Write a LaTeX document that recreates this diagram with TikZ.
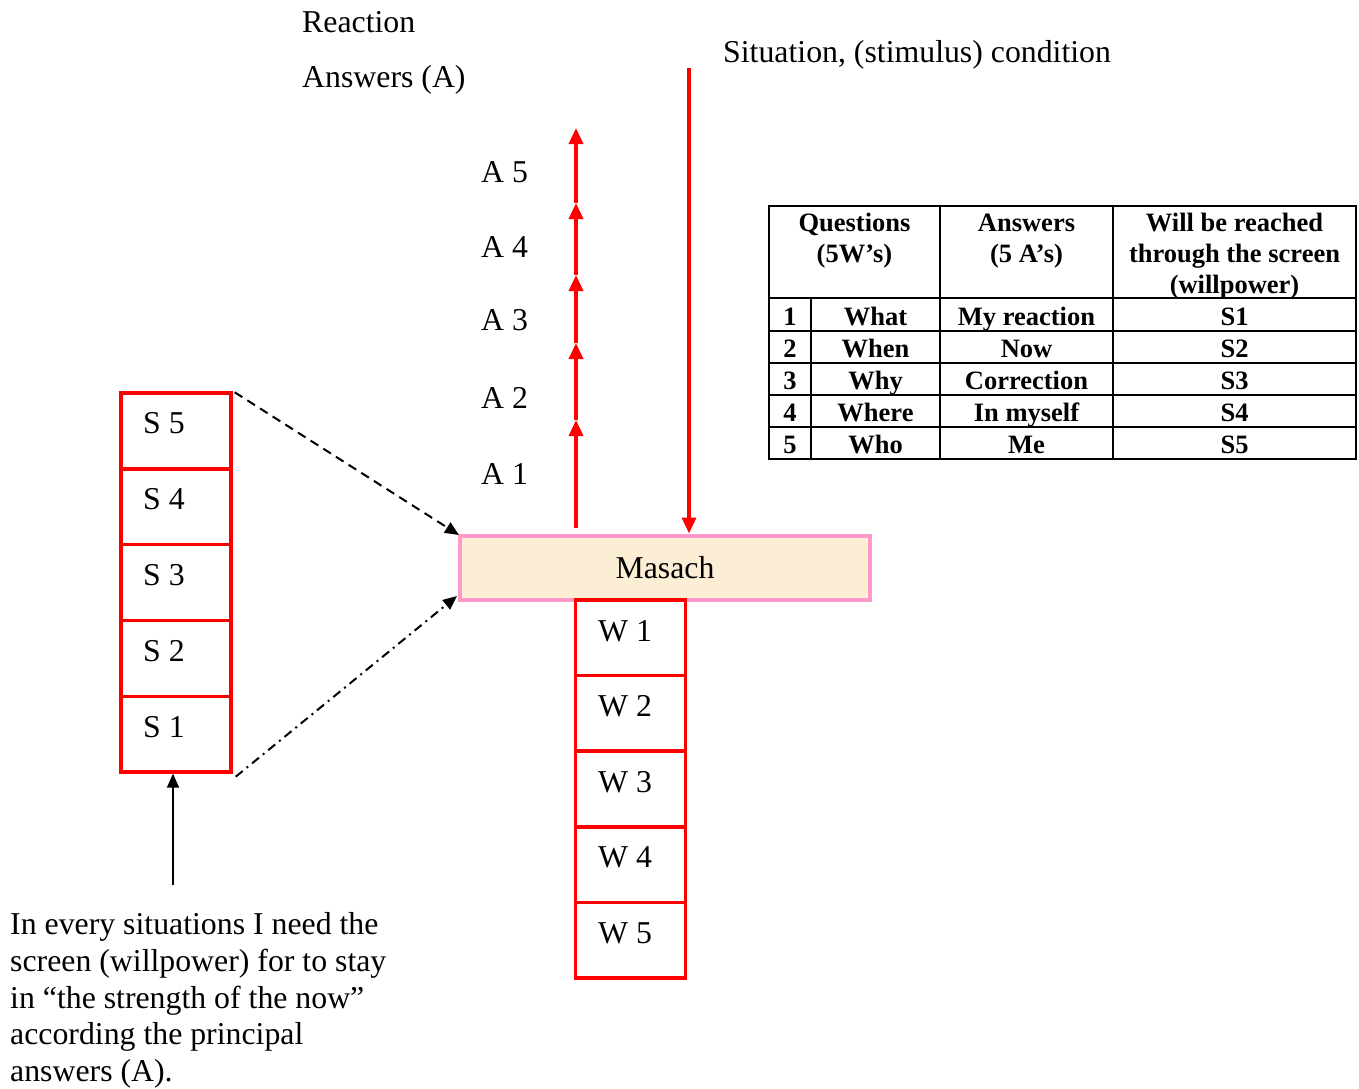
\documentclass[tikz,border=0pt]{standalone}
\usepackage{fontspec}
\setmainfont{Liberation Serif}
\usetikzlibrary{arrows.meta}
\definecolor{pinkb}{HTML}{FF99CC}
\definecolor{beige}{HTML}{FCEDD5}
\tikzset{
  txt/.style={anchor=base west,inner sep=0pt,font=\fontsize{31.8}{37}\selectfont},
  ctxt/.style={anchor=base,inner sep=0pt,font=\fontsize{31.8}{37}\selectfont},
  tb/.style={anchor=base,inner sep=0pt,font=\fontsize{26.5}{31}\selectfont\bfseries},
  redbox/.style={draw=red,line width=3.4pt,minimum width=110pt,minimum height=75.8pt,inner sep=0pt},
  redarrow/.style={draw=red,line width=3.4pt,-{Triangle[length=16pt,width=14pt]}},
  blackarrow/.style={draw=black,line width=2pt,-{Triangle[length=14pt,width=12pt]}},
  tline/.style={line width=1.6pt}
}
\begin{document}
\begin{tikzpicture}[x=1pt,y=-1pt]
\useasboundingbox (0,0) rectangle (1359,1088);
% top texts
\node[txt] (reaction) at (302,32) {Reaction};
\node[txt] (answersA) at (302,87) {Answers (A)};
\node[txt] (situation) at (723,62) {Situation, (stimulus) condition};
% Masach
\node[draw=pinkb,fill=beige,line width=4pt,minimum width=410pt,minimum height=64pt,inner sep=0pt] (masach) at (664.5,567.5) {};
\node[ctxt] (masachtxt) at (665,578) {Masach};
% W boxes
\foreach \i in {1,...,5}{
  \node[redbox] (w\i) at (630.5,{600+37.8+75.6*(\i-1)}) {};
  \node[txt] (wl\i) at (598,{641+75.6*(\i-1)}) {W \i};
}
% S boxes
\foreach \i in {1,...,5}{
  \node[redbox] (s\i) at (176,{772-37.9-75.8*(\i-1)}) {};
  \node[txt] (sl\i) at (143,{737-75.8*(\i-1)}) {S \i};
}
% A labels
\node[txt] (a5l) at (481,182) {A 5};
\node[txt] (a4l) at (481,257) {A 4};
\node[txt] (a3l) at (481,330) {A 3};
\node[txt] (a2l) at (481,408) {A 2};
\node[txt] (a1l) at (481,484) {A 1};
% up arrow with intermediate heads
\coordinate (u0) at (576,528);
\coordinate (u1) at (576,420);
\coordinate (u2) at (576,343);
\coordinate (u3) at (576,275);
\coordinate (u4) at (576,203);
\coordinate (u5) at (576,128);
\draw[redarrow] (u0) -- (u1);
\draw[redarrow] (u1) -- (u2);
\draw[redarrow] (u2) -- (u3);
\draw[redarrow] (u3) -- (u4);
\draw[redarrow] (u4) -- (u5);
% down arrow
\coordinate (d0) at (689,68);
\draw[redarrow] (d0) -- (masach.north -| d0);
% dashed arrows
\draw[black,line width=2pt,dash pattern=on 9pt off 6pt,-{Triangle[length=14pt,width=12pt]}] (s5.north east) ++(2,1) -- (459,535);
\draw[black,line width=2pt,dash pattern=on 9pt off 5pt on 2pt off 5pt,-{Triangle[length=14pt,width=12pt]}] (s1.south east) ++(3,3) -- (457,596);
% bottom arrow
\coordinate (b0) at (173,885);
\draw[blackarrow] (b0) -- (s1.south -| b0);
% bottom text
\node[txt] (t1) at (10,934) {In every situations I need the};
\node[txt] (t2) at (10,971) {screen (willpower) for to stay};
\node[txt] (t3) at (10,1008) {in “the strength of the now”};
\node[txt] (t4) at (10,1044) {according the principal};
\node[txt] (t5) at (10,1081) {answers (A).};
% table
\draw[tline] (769,206) rectangle (1356,459);
\draw[tline] (940,206) -- (940,459);
\draw[tline] (1113,206) -- (1113,459);
\draw[tline] (811,298) -- (811,459);
\foreach \y in {298,331,363,395,427}{ \draw[tline] (769,\y) -- (1356,\y); }
\node[tb] (hq1) at (854.5,231) {Questions};
\node[tb] (hq2) at (854.5,262) {(5W’s)};
\node[tb] (ha1) at (1026.5,231) {Answers};
\node[tb] (ha2) at (1026.5,262) {(5 A’s)};
\node[tb] (hw1) at (1234.5,231) {Will be reached};
\node[tb] (hw2) at (1234.5,262) {through the screen};
\node[tb] (hw3) at (1234.5,293) {(willpower)};
\foreach \n/\q/\a/\s/\y in {1/What/My reaction/S1/325,2/When/Now/S2/357,3/Why/Correction/S3/389,4/Where/In myself/S4/421,5/Who/Me/S5/453}{
  \node[tb] (n\n) at (790,\y) {\n};
  \node[tb] (q\n) at (875.5,\y) {\q};
  \node[tb] (ans\n) at (1026.5,\y) {\a};
  \node[tb] (sc\n) at (1234.5,\y) {\s};
}
\end{tikzpicture}
\end{document}
